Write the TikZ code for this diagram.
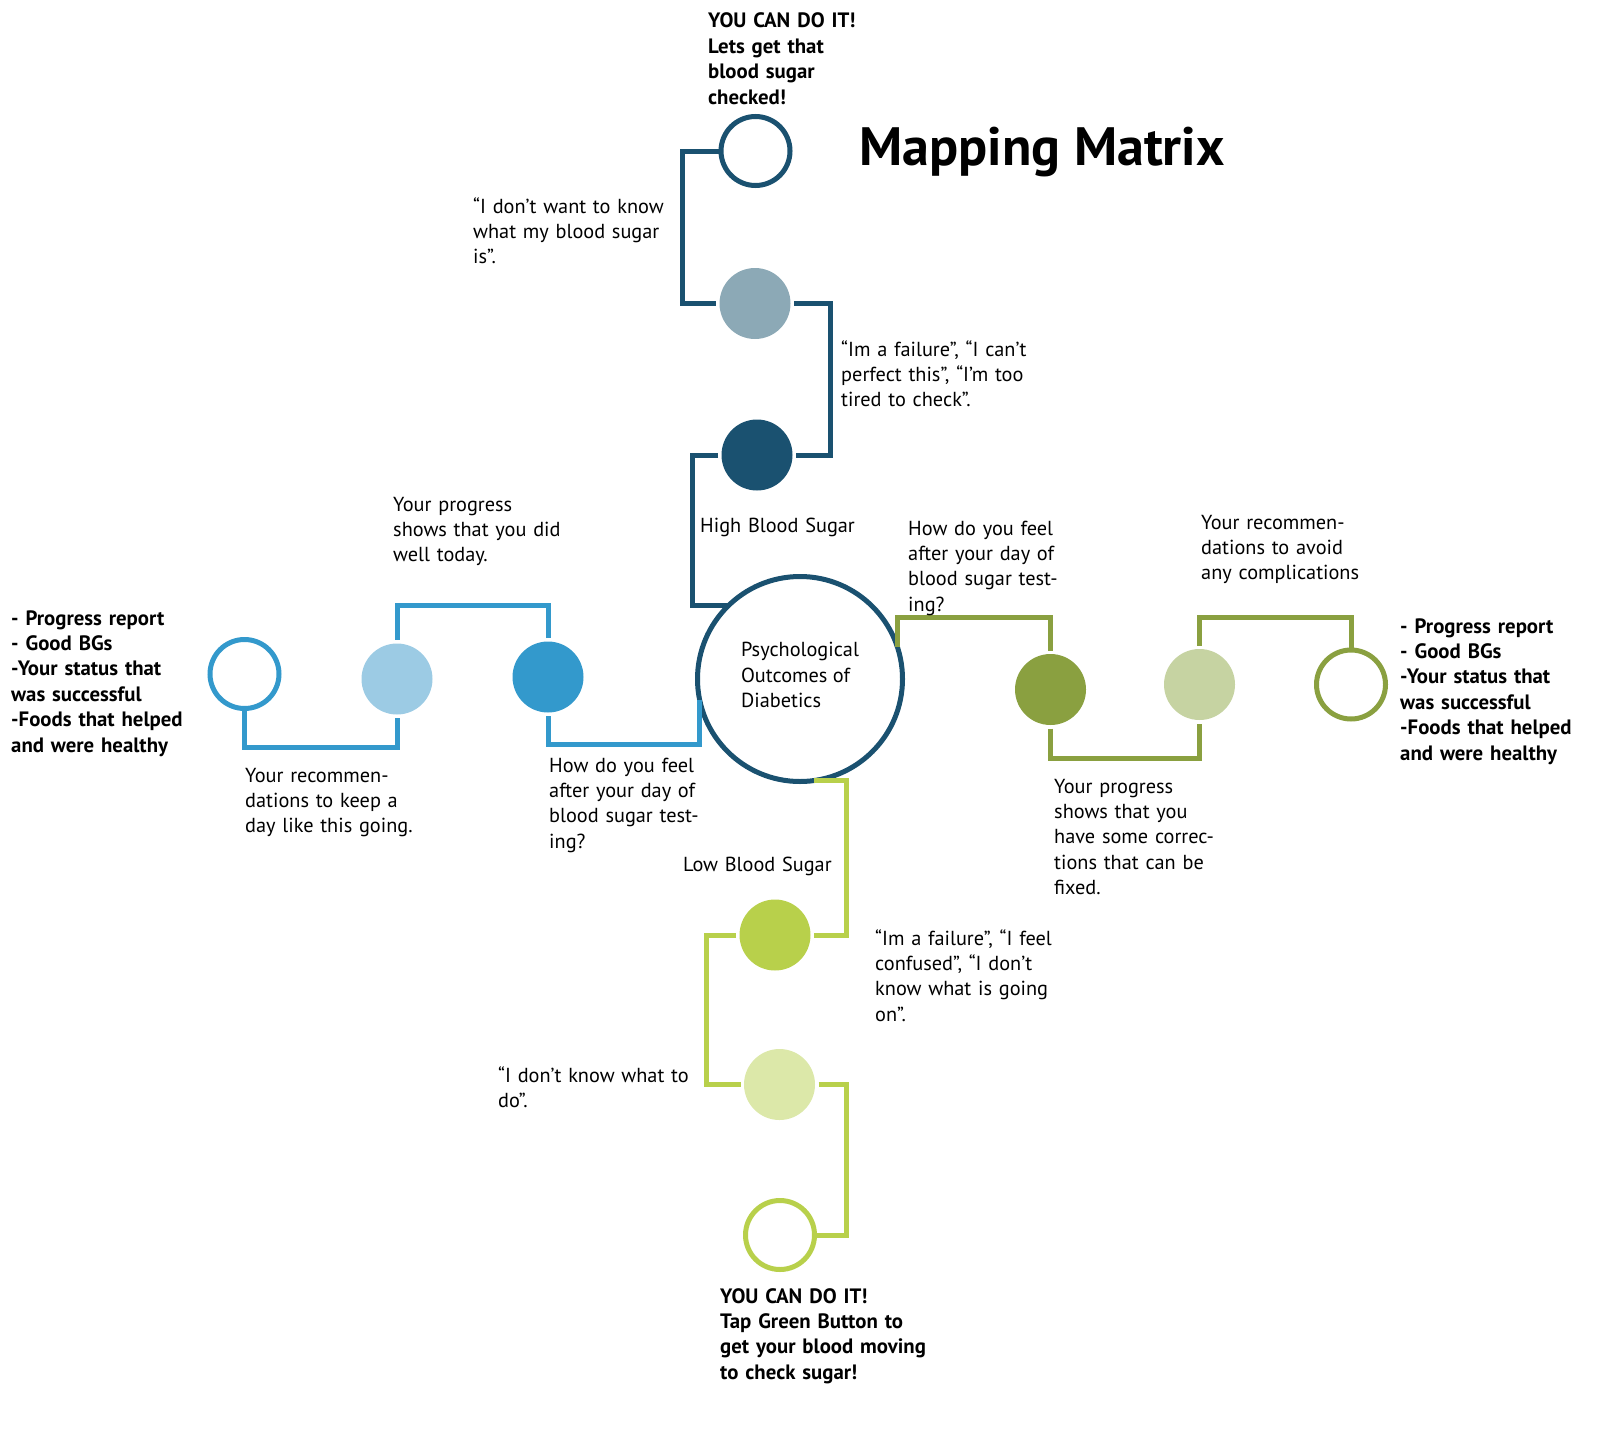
\documentclass[tikz,border=0pt]{standalone}
\usepackage{fontspec}
\setmainfont{PT Sans}
\usepackage{tikz}
\usetikzlibrary{positioning}
\definecolor{hiteal}{HTML}{1A5170}
\definecolor{hisoft}{HTML}{8CA9B6}
\definecolor{okblue}{HTML}{3399CC}
\definecolor{oksoft}{HTML}{9CCBE4}
\definecolor{fixolive}{HTML}{8AA040}
\definecolor{fixsoft}{HTML}{C6D3A2}
\definecolor{lolime}{HTML}{B8D04B}
\definecolor{losoft}{HTML}{DCE8A9}

\begin{document}
\begin{tikzpicture}[x=1pt,y=-1pt]
\tikzset{pip/.style={circle,fill=#1,inner sep=0pt,outer sep=3.5pt,minimum size=71pt}}
\tikzset{hollow/.style={circle,draw=#1,fill=white,line width=5pt,inner sep=0pt,minimum size=69pt}}
\tikzset{link/.style={draw=#1,line width=5pt}}
\tikzset{say/.style={anchor=base west,inner sep=0pt,text width=280pt,align=left,
  font=\fontsize{20.3}{25.4}\selectfont}}
\tikzset{cheer/.style={say,font=\fontsize{20.8}{25.4}\selectfont\bfseries}}
\useasboundingbox (0,0) rectangle (1600,1453);
\node[anchor=base west,inner sep=0pt,font=\fontsize{54}{60}\selectfont\bfseries] (title) at (859,165) {Mapping Matrix};
\node[circle,draw=hiteal,line width=5pt,inner sep=0pt,outer sep=0pt,minimum size=205pt,
  align=left,font=\fontsize{20.3}{25.4}\selectfont] (core) at (800,679) {Psychological\\Outcomes of\\Diabetics\strut};
\node[pip=hiteal] (t1) at (757,455) {};
\node[pip=hisoft] (t2) at (755,303.5) {};
\node[hollow=hiteal] (t3) at (755.5,151) {};
\node[pip=okblue] (b1) at (548,677) {};
\node[pip=oksoft] (b2) at (397,679) {};
\node[hollow=okblue] (b3) at (244.5,674) {};
\node[pip=fixolive] (r1) at (1050.5,689.5) {};
\node[pip=fixsoft] (r2) at (1199.5,684.5) {};
\node[hollow=fixolive] (r3) at (1351,684.5) {};
\node[pip=lolime] (l1) at (775,935) {};
\node[pip=losoft] (l2) at (779.5,1084.5) {};
\node[hollow=lolime] (l3) at (780,1235) {};
\draw[link=hiteal] (t3.west) -- ++(-36.5,0) |- (t2.west);
\draw[link=hiteal] (t2.east) -- ++(36,0) |- (t1.east);
\draw[link=hiteal] (t1.west) -- ++(-26,0) |- (core.134);
\draw[link=okblue] (core.192) -- ++(0,44) -| (b1.south);
\draw[link=okblue] (b1.north) -- ++(0,-33) -| (b2.north);
\draw[link=okblue] (b2.south) -- ++(0,29) -| (b3.south);
\draw[link=fixolive] (core.18) -- ++(0,-30) -| (r1.north);
\draw[link=fixolive] (r1.south) -- ++(0,29.5) -| (r2.south);
\draw[link=fixolive] (r2.north) -- ++(0,-28.5) -| (r3.north);
\draw[link=lolime] (core.278) -- ++(32,0) |- (l1.east);
\draw[link=lolime] (l1.west) -- ++(-30,0) |- (l2.west);
\draw[link=lolime] (l2.east) -- ++(27.5,0) |- (l3.east);
\node[cheer] (topcheer) at (708,28) {YOU CAN DO IT!\\Lets get that\\blood sugar\\checked!};
\node[say] (hidenial) at (473,213) {“I don’t want to know\\what my blood sugar\\is”.};
\node[say] (hifail) at (841,356) {“Im a failure”, “I can’t\\perfect this”, “I’m too\\tired to check”.};
\node[say] (hilabel) at (700,532) {High Blood Sugar};
\node[say] (fixfeel) at (908,535) {How do you feel\\after your day of\\blood sugar test-\\ing?};
\node[say] (fixrec) at (1201,529) {Your recommen-\\dations to avoid\\any complications};
\node[cheer] (fixlist) at (1400,633) {- Progress report\\- Good BGs\\-Your status that\\was successful\\-Foods that helped\\and were healthy};
\node[cheer] (oklist) at (11,625) {- Progress report\\- Good BGs\\-Your status that\\was successful\\-Foods that helped\\and were healthy};
\node[say] (okprog) at (393,511) {Your progress\\shows that you did\\well today.};
\node[say] (okrec) at (245,782) {Your recommen-\\dations to keep a\\day like this going.};
\node[say] (okfeel) at (549,772) {How do you feel\\after your day of\\blood sugar test-\\ing?};
\node[say] (lolabel) at (683,871) {Low Blood Sugar};
\node[say] (fixprog) at (1054,793) {Your progress\\shows that you\\have some correc-\\tions that can be\\fixed.};
\node[say] (lofail) at (875,945) {“Im a failure”, “I feel\\confused”, “I don’t\\know what is going\\on”.};
\node[say] (lolost) at (498,1082) {“I don’t know what to\\do”.};
\node[cheer] (locheer) at (720,1303) {YOU CAN DO IT!\\Tap Green Button to\\get your blood moving\\to check sugar!};
\end{tikzpicture}
\end{document}
